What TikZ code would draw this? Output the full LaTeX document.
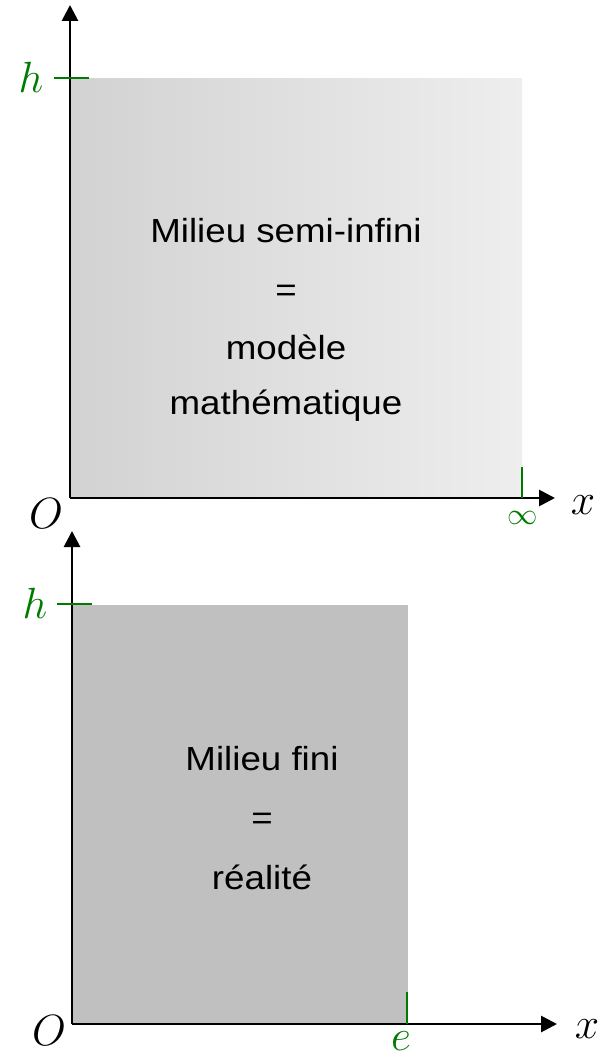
\documentclass[tikz,border=0pt]{standalone}
\usepackage{fontspec}
\setmainfont[FakeStretch=1.1]{Liberation Sans}
\usepackage{tikz}
\usetikzlibrary{arrows.meta, positioning}

\definecolor{labgreen}{RGB}{0,122,0}
\definecolor{mediumleft}{RGB}{210,210,210}
\definecolor{mediumright}{RGB}{238,238,238}
\definecolor{mediumfinite}{RGB}{192,192,192}

\begin{document}
\begin{tikzpicture}[
    x=0.02cm, y=-0.02cm,
    axis/.style={-{Triangle[length=0.32cm, width=0.32cm]}, line width=1.6pt},
    ticklabel/.style={draw=labgreen, line width=1.1pt},
    mathlabel/.style={inner sep=0pt, font=\fontsize{24}{28}\selectfont},
    greenlabel/.style={mathlabel, text=labgreen},
    bodytext/.style={inner sep=0pt, anchor=base, font=\fontsize{19}{23}\selectfont},
    semiinfinite/.style={left color=mediumleft, right color=mediumright},
    finite/.style={fill=mediumfinite}
]
\useasboundingbox (0,0) rectangle (603,1057);

% Semi-infinite medium
\coordinate (O1) at (70,498);
\coordinate (ytop1) at (70,5);
\coordinate (xend1) at (555,498);
\coordinate (corner1) at (522,79);
\fill [semiinfinite] (O1) rectangle (corner1);

\node (text1) [bodytext] at (286,243) {Milieu semi-infini};
\node (text2) [bodytext] at (286,301) {=};
\node (text3) [bodytext] at (286,359) {modèle};
\node (text4) [bodytext] at (286,414) {mathématique};

% Finite medium
\coordinate (O2) at (72,1024);
\coordinate (ytop2) at (72,531);
\coordinate (xend2) at (557,1024);
\coordinate (corner2) at (408,605);
\fill [finite] (O2) rectangle (corner2);

\node (text5) [bodytext] at (262,770) {Milieu fini};
\node (text6) [bodytext] at (262,829) {=};
\node (text7) [bodytext] at (262,889) {réalité};

% Axes
\draw [axis] (O1) -- (ytop1);
\draw [axis] (O1) -- (xend1);
\draw [axis] (O2) -- (ytop2);
\draw [axis] (O2) -- (xend2);

% Ticks
\coordinate (h1a) at (54,78);
\coordinate (h1b) at (89,78);
\coordinate (inf1) at (522,467);
\coordinate (h2a) at (57,604);
\coordinate (h2b) at (92,604);
\coordinate (e1) at (407,992);
\draw [ticklabel] (h1a) -- (h1b);
\draw [ticklabel] (inf1) -- (inf1 |- O1);
\draw [ticklabel] (h2a) -- (h2b);
\draw [ticklabel] (e1) -- (e1 |- O2);

% Labels
\node (hlab1) [greenlabel] at (31,77) {$h$};
\node (olab1) [mathlabel] at (46,514) {$O$};
\node (xlab1) [mathlabel] at (583,505) {$x$};
\node (inflab) [greenlabel, font=\fontsize{19}{22}\selectfont] at (523,518) {$\infty$};
\node (hlab2) [greenlabel] at (35,603) {$h$};
\node (olab2) [mathlabel] at (49,1031) {$O$};
\node (xlab2) [mathlabel] at (587,1029) {$x$};
\node (elab) [greenlabel] at (401,1041) {$e$};

\end{tikzpicture}
\end{document}
